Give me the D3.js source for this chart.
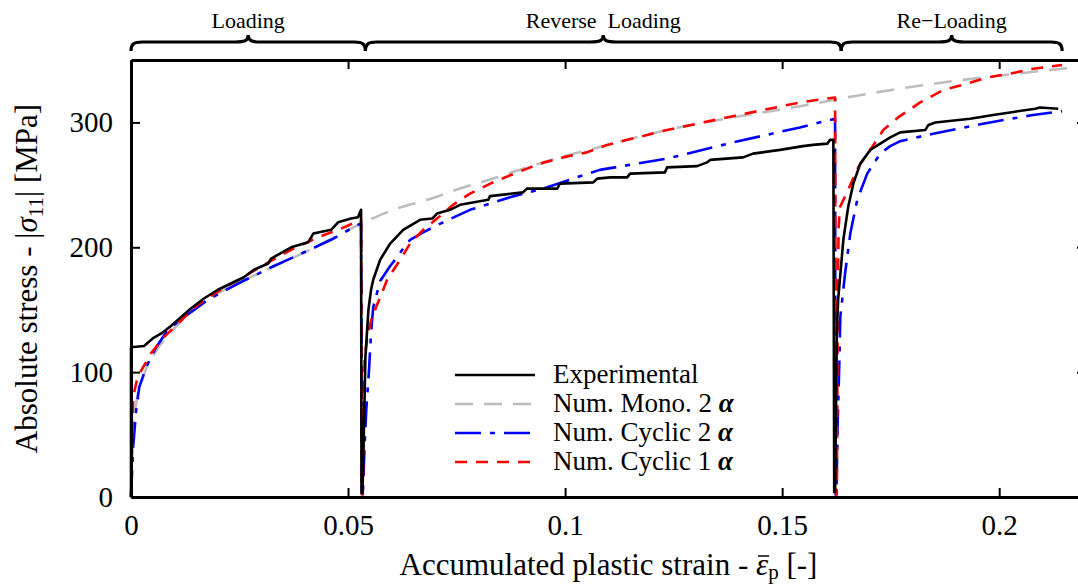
<!DOCTYPE html>
<html>
<head>
<meta charset="utf-8">
<script src="https://cdn.jsdelivr.net/npm/d3@7"></script>
<style>
  body { margin: 0; background: #fff; }
  svg { display: block; }
  .chart text { font-family: "Liberation Serif", "DejaVu Serif", serif; fill: #000; }
</style>
</head>
<body>
<div class="chart"></div>
<script>
// stress vs accumulated plastic strain, loading / reverse / re-loading

// Experimental (black)
var expStrain = [0, 0, 0.003, 0.005, 0.007, 0.0092, 0.0115, 0.0138, 0.0168, 0.02, 0.023, 0.026, 0.0283, 0.0316,
  0.0323, 0.0369, 0.0408, 0.042, 0.0461, 0.0477, 0.0507, 0.0523, 0.053, 0.0531, 0.0533, 0.0537, 0.054, 0.0547,
  0.0553, 0.0558, 0.0574, 0.0597, 0.0627, 0.0666, 0.0694, 0.0705, 0.0735, 0.0758, 0.0823, 0.0827, 0.0903, 0.0912,
  0.0982, 0.0988, 0.1065, 0.1074, 0.1104, 0.1143, 0.115, 0.123, 0.1235, 0.1304, 0.1327, 0.1334, 0.141, 0.1433,
  0.1495, 0.1548, 0.1571, 0.1604, 0.161, 0.1618, 0.162, 0.1622, 0.1626, 0.1629, 0.1641, 0.1652, 0.1664, 0.168,
  0.1703, 0.1726, 0.1749, 0.1772, 0.183, 0.1837, 0.1853, 0.1933, 0.1986, 0.2025, 0.2083, 0.2094, 0.2136];
var expStress = [0, 120, 121, 127, 131, 137, 144, 151, 159, 166, 171, 176, 182, 187,
  191, 200, 204, 211, 214, 220, 223, 224, 230, 3, 3, 60, 112, 150,
  166, 174, 190, 203, 214, 222, 223, 227, 230, 234, 238, 241, 244, 247,
  247, 251, 252, 255, 256, 256, 259, 260, 264, 265, 268, 270, 272, 275,
  278, 281, 282, 283, 286, 286, 4, 4, 131, 158, 206, 232, 251, 267,
  278, 283, 288, 292, 294, 298, 300, 303, 306, 308, 311, 312, 311];

// Num. Mono. 2 alpha (grey dashed)
var monoStrain = [0, 0.0003, 0.0012, 0.003, 0.006, 0.01, 0.02, 0.03, 0.04, 0.0537, 0.0604, 0.0682, 0.0758,
  0.0834, 0.0912, 0.0988, 0.1065, 0.1235, 0.1387, 0.1541, 0.165, 0.177, 0.1926, 0.2065, 0.22];
var monoStress = [0, 40, 75, 98, 118, 135, 163, 180, 196, 220, 230, 238, 247,
  255, 264, 272, 279, 294, 304, 313, 320, 327, 334.5, 340, 345];

// Num. Cyclic 2 alpha (blue dash-dot)
var cyc2Strain = [0, 0.0005, 0.0012, 0.0019, 0.0035, 0.0058, 0.0085, 0.0122, 0.0177, 0.0247, 0.0323, 0.0399,
  0.0461, 0.0523, 0.053, 0.0532, 0.0534, 0.0538, 0.0542, 0.0548, 0.0553, 0.0558, 0.0574, 0.0597, 0.0613, 0.0627,
  0.0643, 0.0673, 0.0719, 0.0781, 0.0873, 0.0959, 0.1018, 0.108, 0.1235, 0.1387, 0.1541, 0.1622, 0.1623,
  0.1625, 0.1628, 0.1632, 0.1634, 0.1645, 0.1657, 0.1673, 0.1696, 0.1726, 0.1749, 0.1772, 0.1848, 0.1963,
  0.2078, 0.2145];
var cyc2Stress = [0, 40, 70, 88, 104, 120, 134, 144, 158, 171, 184, 196,
  206, 218, 219, 2, 2, 40, 70, 100, 131, 152, 173, 185, 192, 199,
  206, 212, 220, 230, 240, 248, 255, 262, 271, 284, 296, 303, 2,
  2, 60, 110, 144, 179, 211, 238, 259, 275, 281, 285, 291, 299,
  306, 309];

// Num. Cyclic 1 alpha (red dashed)
var cyc1Strain = [0, 0.0005, 0.0015, 0.0046, 0.0076, 0.0108, 0.0154, 0.0207, 0.0253, 0.0306, 0.0369, 0.0431,
  0.0491, 0.053, 0.0532, 0.0534, 0.0536, 0.0538, 0.0545, 0.0555, 0.0574, 0.059, 0.062, 0.0643, 0.0673, 0.0705,
  0.0742, 0.0781, 0.0834, 0.089, 0.0942, 0.0995, 0.105, 0.1097, 0.1235, 0.1387, 0.1541, 0.1622, 0.1624, 0.1626,
  0.1628, 0.163, 0.1633, 0.1652, 0.1675, 0.1703, 0.1733, 0.1767, 0.1818, 0.1871, 0.1926, 0.1972, 0.2025,
  0.2078, 0.2145];
var cyc1Stress = [0, 80, 96, 115, 128, 139, 154, 166, 175, 186, 198, 208,
  216, 222, 2, 2, 60, 110, 130, 144, 160, 174, 190, 203, 214, 223,
  234, 243, 252, 260, 267, 272, 276, 282, 294, 305, 316, 320, 2, 2,
  150, 215, 232, 246, 264, 278, 294, 304, 316, 326, 331, 336, 339,
  343, 346];

var xTicks = [0, 0.05, 0.1, 0.15, 0.2];
var xTickLabels = ["0", "0.05", "0.1", "0.15", "0.2"];
var yTicks = [0, 100, 200, 300];

// stage braces along the top
var stageBreaks = [0, 0.054, 0.1636, 0.2145];
var stageLabels = ["Loading", "Reverse  Loading", "Re\u2212Loading"];

var legendLabels = ["Experimental", "Num. Mono. 2", "Num. Cyclic 2", "Num. Cyclic 1"];

// svg container
var svgWidth = 1078;
var svgHeight = 587;

var margin = { top: 60, left: 131 };
var chartWidth = 955;   // right axis falls just outside the picture
var chartHeight = 437;

var svg = d3.select(".chart")
  .append("svg")
  .attr("width", svgWidth)
  .attr("height", svgHeight);

svg.append("rect").attr("width", svgWidth).attr("height", svgHeight).attr("fill", "#fff");

var chartGroup = svg.append("g")
  .attr("transform", `translate(${margin.left}, ${margin.top})`);

var xScale = d3.scaleLinear().domain([0, 0.22]).range([0, chartWidth]);
var yScale = d3.scaleLinear().domain([0, 350]).range([chartHeight, 0]);

function pts(xs, ys) {
  return xs.map(function (x, i) { return [x, ys[i]]; });
}

var line = d3.line()
  .x(function (d) { return xScale(d[0]); })
  .y(function (d) { return yScale(d[1]); });

var smoothLine = d3.line()
  .curve(d3.curveMonotoneX)
  .x(function (d) { return xScale(d[0]); })
  .y(function (d) { return yScale(d[1]); });

var series = [
  { data: pts(monoStrain, monoStress), color: "#bdbdbd", dash: "18,11", gen: smoothLine },
  { data: pts(cyc2Strain, cyc2Stress), color: "#0000ff", dash: "26,9,5,9", gen: line },
  { data: pts(cyc1Strain, cyc1Stress), color: "#ff0000", dash: "12,9", gen: line },
  { data: pts(expStrain, expStress), color: "#000", dash: null, gen: line }
];

series.forEach(function (s) {
  chartGroup.append("path")
    .attr("d", s.gen(s.data))
    .attr("fill", "none")
    .attr("stroke", s.color)
    .attr("stroke-width", 2.6)
    .attr("stroke-linejoin", "round")
    .attr("stroke-dasharray", s.dash);
});

// Axes (ticks inward on all four sides)
function styleAxis(g) {
  g.select(".domain").attr("stroke-width", 3);
  g.selectAll(".tick line").attr("stroke-width", 2);
  g.selectAll(".tick text").style("font-size", "29px");
}

var bottomAxis = d3.axisBottom(xScale).tickValues(xTicks)
  .tickFormat(function (d, i) { return xTickLabels[i]; })
  .tickSizeInner(-9).tickSizeOuter(0).tickPadding(17);
var leftAxis = d3.axisLeft(yScale).tickValues(yTicks)
  .tickSizeInner(-9).tickSizeOuter(0).tickPadding(18);
var topAxis = d3.axisTop(xScale).tickValues(xTicks).tickFormat("")
  .tickSizeInner(-9).tickSizeOuter(0);
var rightAxis = d3.axisRight(yScale).tickValues(yTicks).tickFormat("")
  .tickSizeInner(-9).tickSizeOuter(0);

chartGroup.append("g").attr("transform", `translate(0, ${chartHeight})`).call(bottomAxis).call(styleAxis);
chartGroup.append("g").call(leftAxis).call(styleAxis);
chartGroup.append("g").call(topAxis).call(styleAxis);
chartGroup.append("g").attr("transform", `translate(${chartWidth}, 0)`).call(rightAxis).call(styleAxis);

// Axis labels
var xLabel = chartGroup.append("text")
  .attr("x", chartWidth / 2)
  .attr("y", chartHeight + 78)
  .attr("text-anchor", "middle")
  .style("font-size", "31px");
xLabel.append("tspan").text("Accumulated plastic strain - ");
xLabel.append("tspan").style("font-style", "italic").text("\u03B5");
xLabel.append("tspan").attr("dy", 4).style("font-size", "21px").text("p");
xLabel.append("tspan").attr("dy", -4).text(" [-]");

// bar over epsilon
var epsIdx = "Accumulated plastic strain - ".length;
var xl = xLabel.node();
var e0 = xl.getStartPositionOfChar(epsIdx), e1 = xl.getEndPositionOfChar(epsIdx);
chartGroup.append("line")
  .attr("x1", e0.x + 2).attr("x2", e1.x + 1)
  .attr("y1", chartHeight + 78 - 19).attr("y2", chartHeight + 78 - 19)
  .attr("stroke", "#000").attr("stroke-width", 1.5);

var yLabel = chartGroup.append("text")
  .attr("transform", `translate(${37 - margin.left}, ${chartHeight / 2}) rotate(-90)`)
  .attr("text-anchor", "middle")
  .style("font-size", "31px");
yLabel.append("tspan").text("Absolute stress - |");
yLabel.append("tspan").style("font-style", "italic").text("\u03C3");
yLabel.append("tspan").attr("dy", 6).style("font-size", "21px").text("11");
yLabel.append("tspan").attr("dy", -6).text("| [MPa]");

// Stage braces
function bracePath(x0, x1) {
  var xm = (x0 + x1) / 2, yb = 51 - margin.top, yl = 42 - margin.top, yt = 35 - margin.top;
  return `M${x0},${yb} C${x0},${yl + 2} ${x0 + 3},${yl} ${x0 + 11},${yl}` +
    ` L${xm - 13},${yl} C${xm - 4},${yl} ${xm},${yl - 1} ${xm},${yt}` +
    ` C${xm},${yl - 1} ${xm + 4},${yl} ${xm + 13},${yl}` +
    ` L${x1 - 11},${yl} C${x1 - 3},${yl} ${x1},${yl + 2} ${x1},${yb}`;
}

stageLabels.forEach(function (lab, i) {
  var x0 = xScale(stageBreaks[i]), x1 = xScale(stageBreaks[i + 1]);
  chartGroup.append("path")
    .attr("d", bracePath(x0, x1))
    .attr("fill", "none")
    .attr("stroke", "#000")
    .attr("stroke-width", 3.2);
  chartGroup.append("text")
    .attr("x", (x0 + x1) / 2)
    .attr("y", 28 - margin.top)
    .attr("text-anchor", "middle")
    .style("white-space", "pre")
    .style("font-size", "22px")
    .text(lab);
});

// Legend
var legendStyles = [series[3], series[0], series[1], series[2]];
var legend = chartGroup.append("g").attr("transform", `translate(${455 - margin.left}, ${375 - margin.top})`);
legendLabels.forEach(function (lab, i) {
  var row = legend.append("g").attr("transform", `translate(0, ${i * 29})`);
  row.append("line")
    .attr("x1", 0).attr("x2", 80)
    .attr("stroke", legendStyles[i].color)
    .attr("stroke-width", 2.6)
    .attr("stroke-dasharray", legendStyles[i].dash);
  var t = row.append("text").attr("x", 98).attr("y", 8).style("font-size", "27px");
  t.append("tspan").text(lab);
  if (i > 0) {
    t.append("tspan").text(" ");
    t.append("tspan").style("font-style", "italic").style("font-weight", "bold").text("\u03B1");
  }
});
</script>
</body>
</html>
